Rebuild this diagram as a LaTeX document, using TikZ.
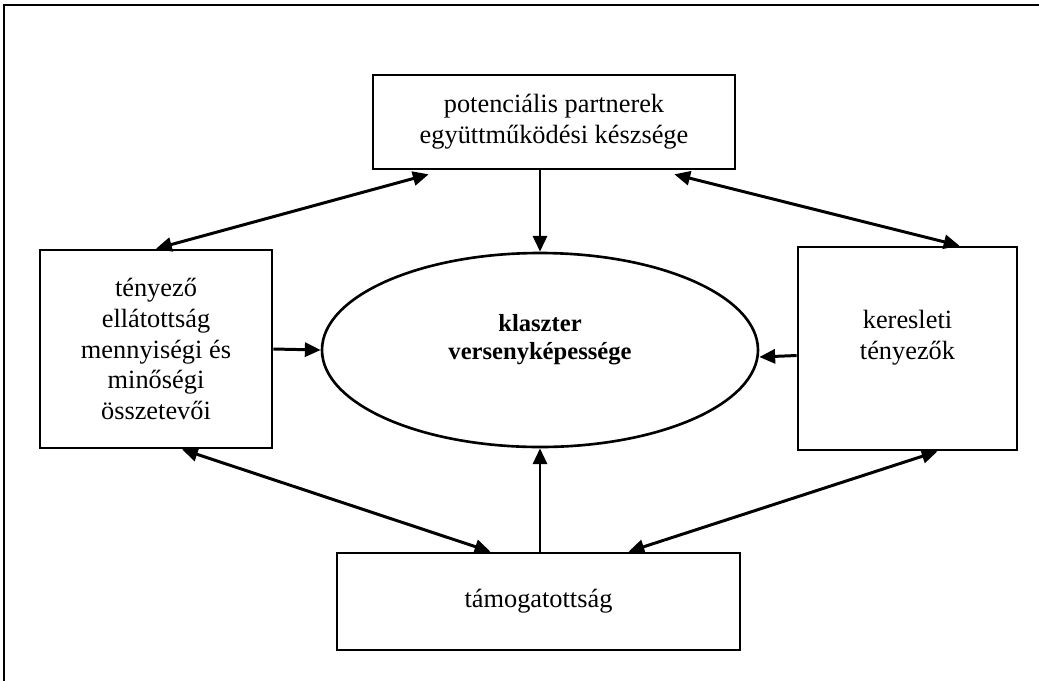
\documentclass[tikz,border=0pt]{standalone}
\usepackage{fontspec}
\setmainfont{Liberation Serif}
\usepackage{tikz}
\usetikzlibrary{arrows.meta,shapes}
\usetikzlibrary{positioning}
\tikzset{
    >={Triangle[length=9pt,width=8pt]},
    doboz/.style={draw=black, line width=1.5pt, rectangle, align=center,
        inner sep=0pt, font=\fontsize{15}{17.5}\selectfont},
    kozep/.style={draw=black, line width=1.5pt, ellipse, inner sep=0pt},
    felirat/.style={align=center, inner sep=0pt, font=\fontsize{15}{17.5}\selectfont},
    vastag/.style={felirat, font=\bfseries\fontsize{14}{16}\selectfont},
    hatas/.style={->, draw=black, line width=1.7pt},
    kolcson/.style={<->, draw=black, line width=1.7pt},
}

\begin{document}
\begin{tikzpicture}[x=0.02cm, y=-0.02cm]
	\useasboundingbox (0,0) rectangle (1039,681);
	\draw[line width=1.2pt] (4,681) -- (4,5) -- (1039,5);
	\node[doboz, minimum width=362*0.02cm, minimum height=94*0.02cm] (partner) at (554,122)
		{potenciális partnerek\\együttműködési készsége};
	\node[doboz, minimum width=232*0.02cm, minimum height=198*0.02cm] (tenyezo) at (156,349)
		{tényező\\ellátottság\\mennyiségi és\\minőségi\\összetevői};
	\node[doboz, minimum width=219*0.02cm, minimum height=203*0.02cm] (kereslet) at (907.5,348.5) {};
	\node[felirat] (keresletfelirat) at (907.5,338) {keresleti\\tényezők};
	\node[doboz, minimum width=403*0.02cm, minimum height=97*0.02cm] (tamogatas) at (538.5,601.5)
		{támogatottság};
	\node[kozep, minimum width=436*0.02cm, minimum height=194*0.02cm] (klaszter) at (540,350) {};
	\node[vastag] (klaszterfelirat) at (540,340) {klaszter\\versenyképessége};
	% egyiranyu hatasok
	\draw[hatas] (partner.south -| klaszter.north) -- (klaszter.north);
	\draw[hatas] (tenyezo.east) -- (klaszter.west);
	\draw[hatas] ([yshift=-7*0.02cm]kereslet.west) -- ([yshift=-7*0.02cm]klaszter.east);
	\draw[hatas] (tamogatas.north -| klaszter.south) -- (klaszter.south);
	% kolcsonhatasok
	\draw[kolcson] ([xshift=57*0.02cm, yshift=-4*0.02cm]partner.south west) -- (tenyezo.north);
	\draw[kolcson] ([xshift=-62*0.02cm, yshift=-4*0.02cm]partner.south east) -- ([xshift=52*0.02cm]kereslet.north);
	\draw[kolcson] ([xshift=26*0.02cm]tenyezo.south) -- ([xshift=-48*0.02cm]tamogatas.north);
	\draw[kolcson] ([xshift=90*0.02cm]tamogatas.north) -- ([xshift=30*0.02cm]kereslet.south);
\end{tikzpicture}
\end{document}
